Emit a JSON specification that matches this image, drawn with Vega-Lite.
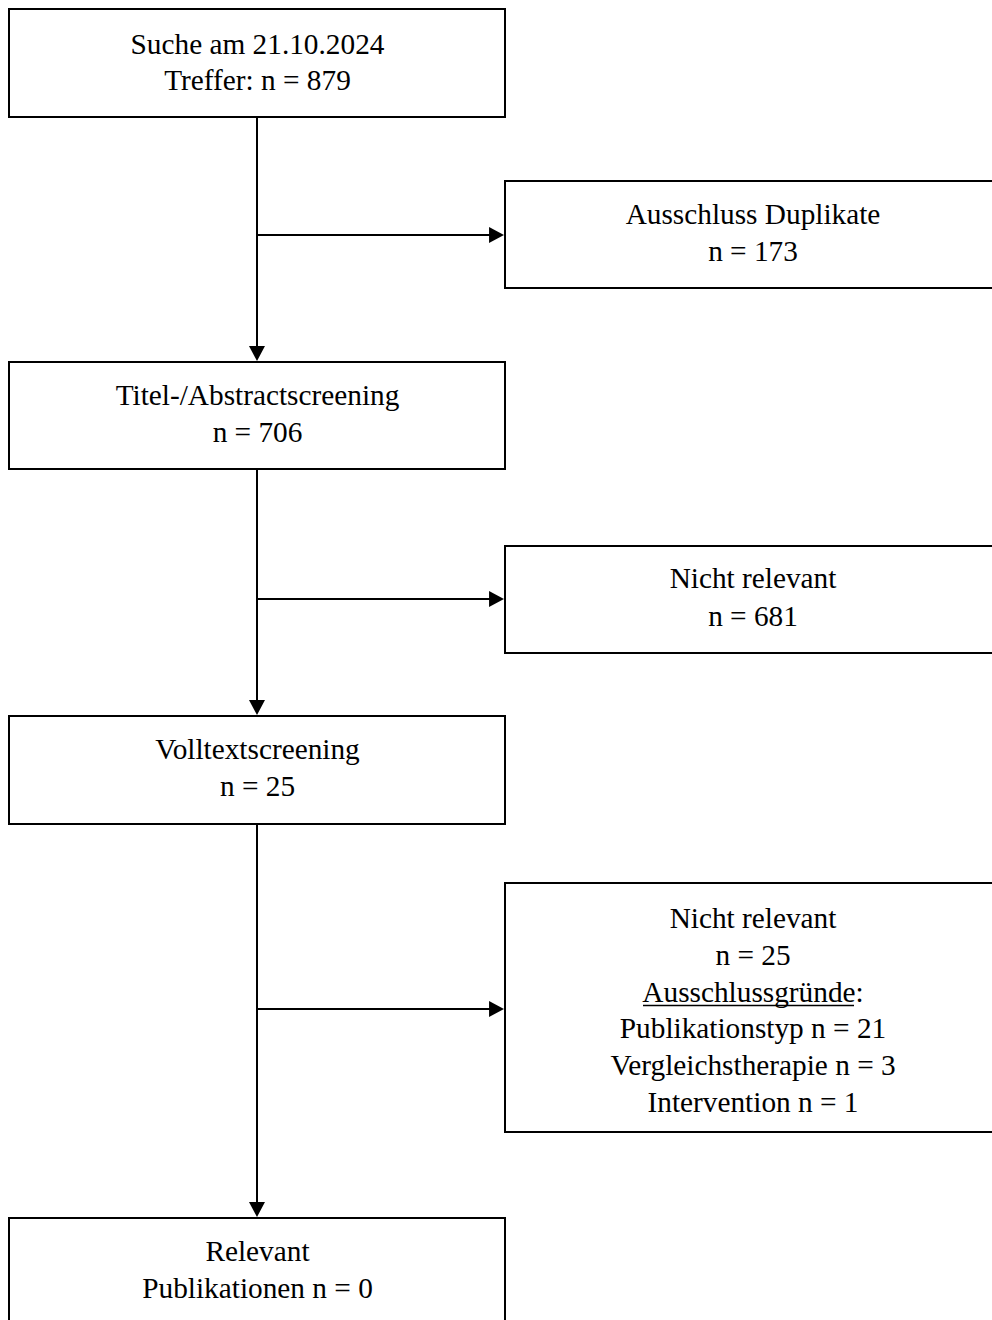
{
  "$schema": "https://vega.github.io/schema/vega-lite/v6.json",
  "width": 992,
  "height": 1320,
  "padding": 0,
  "autosize": {"type": "fit", "contains": "padding"},
  "background": "white",
  "config": {"view": {"stroke": null}},
  "datasets": {
    "boxes": [
      {"id": "A", "x1": 9, "x2": 505, "y1": 9, "y2": 117},
      {"id": "B", "x1": 505, "x2": 1000, "y1": 181, "y2": 288},
      {"id": "C", "x1": 9, "x2": 505, "y1": 362, "y2": 469},
      {"id": "D", "x1": 505, "x2": 1000, "y1": 546, "y2": 653},
      {"id": "E", "x1": 9, "x2": 505, "y1": 716, "y2": 824},
      {"id": "F", "x1": 505, "x2": 1000, "y1": 883, "y2": 1132},
      {"id": "G", "x1": 9, "x2": 505, "y1": 1218, "y2": 1340}
    ],
    "links": [
      {"x1": 257, "x2": 257, "y1": 117, "y2": 356},
      {"x1": 257, "x2": 498, "y1": 235, "y2": 235},
      {"x1": 257, "x2": 257, "y1": 469, "y2": 710},
      {"x1": 257, "x2": 498, "y1": 599, "y2": 599},
      {"x1": 257, "x2": 257, "y1": 824, "y2": 1212},
      {"x1": 257, "x2": 498, "y1": 1009, "y2": 1009}
    ],
    "heads": [
      {"dir": "down", "x": 257, "y": 361},
      {"dir": "down", "x": 257, "y": 715},
      {"dir": "down", "x": 257, "y": 1217},
      {"dir": "right", "x": 504, "y": 235},
      {"dir": "right", "x": 504, "y": 599},
      {"dir": "right", "x": 504, "y": 1009}
    ],
    "labels": [
      {"x": 257.5, "y": 54, "text": "Suche am 21.10.2024"},
      {"x": 257.5, "y": 90, "text": "Treffer: n = 879"},
      {"x": 753, "y": 224, "text": "Ausschluss Duplikate"},
      {"x": 753, "y": 261, "text": "n = 173"},
      {"x": 257.5, "y": 405, "text": "Titel-/Abstractscreening"},
      {"x": 257.5, "y": 442, "text": "n = 706"},
      {"x": 753, "y": 588, "text": "Nicht relevant"},
      {"x": 753, "y": 626, "text": "n = 681"},
      {"x": 257.5, "y": 759, "text": "Volltextscreening"},
      {"x": 257.5, "y": 796, "text": "n = 25"},
      {"x": 753, "y": 928, "text": "Nicht relevant"},
      {"x": 753, "y": 965, "text": "n = 25"},
      {"x": 753, "y": 1002, "text": "Ausschlussgründe:"},
      {"x": 753, "y": 1038, "text": "Publikationstyp n = 21"},
      {"x": 753, "y": 1075, "text": "Vergleichstherapie n = 3"},
      {"x": 753, "y": 1112, "text": "Intervention n = 1"},
      {"x": 257.5, "y": 1261, "text": "Relevant"},
      {"x": 257.5, "y": 1298, "text": "Publikationen n = 0"}
    ],
    "underlines": [
      {"x1": 643, "x2": 854, "y": 1005.5}
    ]
  },
  "layer": [
    {
      "data": {"name": "boxes"},
      "mark": {"type": "rect", "fill": "white", "stroke": "black", "strokeWidth": 2, "clip": true},
      "encoding": {
        "x": {"field": "x1", "type": "quantitative", "scale": {"domain": [0, 992], "nice": false, "zero": false}, "axis": null},
        "x2": {"field": "x2"},
        "y": {"field": "y1", "type": "quantitative", "scale": {"domain": [0, 1320], "nice": false, "zero": false, "reverse": true}, "axis": null},
        "y2": {"field": "y2"}
      }
    },
    {
      "data": {"name": "links"},
      "mark": {"type": "rule", "color": "black", "strokeWidth": 2},
      "encoding": {
        "x": {"field": "x1", "type": "quantitative"},
        "x2": {"field": "x2"},
        "y": {"field": "y1", "type": "quantitative"},
        "y2": {"field": "y2"}
      }
    },
    {
      "data": {"name": "heads"},
      "transform": [{"filter": "datum.dir === 'down'"}],
      "mark": {"type": "point", "filled": true, "color": "black", "opacity": 1, "strokeWidth": 0, "shape": "M-1,-1.87L1,-1.87L0,0Z", "size": 256},
      "encoding": {
        "x": {"field": "x", "type": "quantitative"},
        "y": {"field": "y", "type": "quantitative"}
      }
    },
    {
      "data": {"name": "heads"},
      "transform": [{"filter": "datum.dir === 'right'"}],
      "mark": {"type": "point", "filled": true, "color": "black", "opacity": 1, "strokeWidth": 0, "shape": "M-1.87,-1L-1.87,1L0,0Z", "size": 256},
      "encoding": {
        "x": {"field": "x", "type": "quantitative"},
        "y": {"field": "y", "type": "quantitative"}
      }
    },
    {
      "data": {"name": "labels"},
      "mark": {"type": "text", "font": "Liberation Serif", "fontSize": 29.3, "color": "black", "align": "center", "baseline": "alphabetic"},
      "encoding": {
        "x": {"field": "x", "type": "quantitative"},
        "y": {"field": "y", "type": "quantitative"},
        "text": {"field": "text"}
      }
    },
    {
      "data": {"name": "underlines"},
      "mark": {"type": "rule", "color": "black", "strokeWidth": 1.5},
      "encoding": {
        "x": {"field": "x1", "type": "quantitative"},
        "x2": {"field": "x2"},
        "y": {"field": "y", "type": "quantitative"}
      }
    }
  ]
}
